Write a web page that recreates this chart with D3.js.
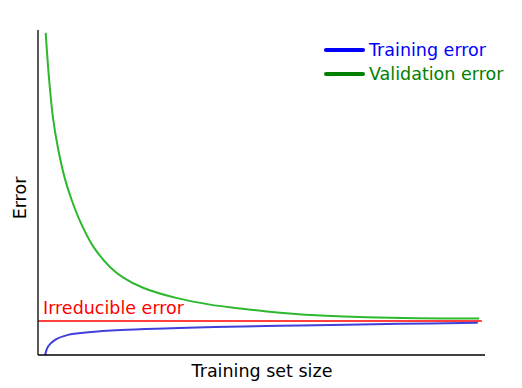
<!DOCTYPE html>
<html><head><meta charset="utf-8">
<script src="https://cdn.jsdelivr.net/npm/d3@7"></script>
<style>body{margin:0;background:#fff}svg{display:block}text{font-family:"DejaVu Sans",sans-serif}</style>
</head><body><svg id="c" width="522" height="388"></svg>
<script>
const trainX = [1.6, 2.24, 3.74, 6.71, 11.2, 18.6, 29.8, 39.5, 58.6, 81.0, 98.4];
const trainErr = [0.0, 0.026, 0.046, 0.062, 0.070, 0.077, 0.082, 0.086, 0.091, 0.096, 0.099];
const valX = [1.72, 2.46, 3.36, 4.47, 5.97, 7.54, 9.40, 12.3, 16.1, 19.0, 23.5, 31.1, 38.5, 44.7, 51.2, 62.4, 73.6, 84.8, 98.7];
const valErr = [0.991, 0.852, 0.729, 0.637, 0.545, 0.477, 0.412, 0.335, 0.271, 0.239, 0.207, 0.175, 0.155, 0.144, 0.134, 0.122, 0.116, 0.113, 0.112];
const irreducible = 0.105;
const irrRange = [0, 99.3];
const legendLabels = ["Training error", "Validation error"];
const legendColors = ["#0000ff", "#008000"];

const svg = d3.select("#c");
const x = d3.scaleLinear().domain([0, 100]).range([38, 485]);
const y = d3.scaleLinear().domain([0, 1]).range([355, 30]);

const line = d3.line().x(d => x(d[0])).y(d => y(d[1])).curve(d3.curveCatmullRom.alpha(0.5));

svg.append("path").datum(valX.map((v, i) => [v, valErr[i]]))
  .attr("d", line).attr("fill", "none").attr("stroke", "#2db82d").attr("stroke-width", 2);
svg.append("line").attr("x1", x(irrRange[0])).attr("x2", x(irrRange[1]))
  .attr("y1", y(irreducible)).attr("y2", y(irreducible))
  .attr("stroke", "#ff0000").attr("stroke-width", 1.5);
svg.append("path").datum(trainX.map((v, i) => [v, trainErr[i]]))
  .attr("d", line).attr("fill", "none").attr("stroke", "#4040dd").attr("stroke-width", 2);

// spines
svg.append("line").attr("x1", 38).attr("x2", 38).attr("y1", y(1)).attr("y2", y(0)).attr("stroke", "#222").attr("stroke-width", 1.5);
svg.append("line").attr("x1", 38).attr("x2", x(100)).attr("y1", y(0)).attr("y2", y(0)).attr("stroke", "#000").attr("stroke-width", 1.5);

svg.append("text").attr("x", 43).attr("y", 314).attr("fill", "#ff0000").attr("font-size", 17.5).text("Irreducible error");
svg.append("text").attr("x", 262).attr("y", 377).attr("text-anchor", "middle").attr("font-size", 17.5).text("Training set size");
svg.append("text").attr("transform", "translate(26,198) rotate(-90)").attr("text-anchor", "middle").attr("font-size", 17.5).text("Error");

const lg = svg.append("g");
legendLabels.forEach((l, i) => {
  const yy = 50 + i * 24;
  lg.append("line").attr("x1", 326).attr("x2", 363).attr("y1", yy).attr("y2", yy)
    .attr("stroke", legendColors[i]).attr("stroke-width", 4).attr("stroke-linecap", "round");
  lg.append("text").attr("x", 369).attr("y", yy + 6).attr("fill", legendColors[i]).attr("font-size", 17.5).text(l);
});
</script></body></html>
